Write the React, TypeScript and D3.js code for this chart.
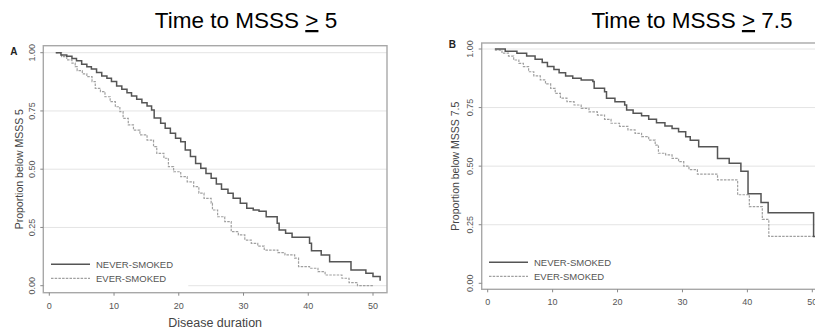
import * as d3 from 'd3';
import React from 'react';

// Panel A: time to MSSS >= 5
const neverA_t = [1, 1.8, 2.7, 3.5, 4.2, 5, 5.8, 6.5, 7.3, 8.1, 8.9, 9.6, 10.4, 11.2, 12, 12.7, 13.5, 14.3, 15.1, 15.8, 16.2, 17.2, 17.9, 18.7, 19.5, 20.3, 21, 21.8, 22.6, 23.4, 24.2, 25, 25.8, 26.6, 27.6, 28.4, 29.5, 30.5, 31.5, 32.4, 33.5, 35.2, 35.5, 36.5, 37.5, 40.2, 40.5, 42, 43.3, 46.6, 48.9, 50, 51.1];
const neverA_s = [1, 0.99, 0.985, 0.975, 0.965, 0.95, 0.94, 0.93, 0.915, 0.9, 0.89, 0.876, 0.857, 0.843, 0.828, 0.814, 0.8, 0.785, 0.771, 0.754, 0.72, 0.697, 0.676, 0.654, 0.633, 0.618, 0.582, 0.554, 0.525, 0.504, 0.482, 0.461, 0.436, 0.414, 0.397, 0.375, 0.354, 0.332, 0.325, 0.32, 0.296, 0.268, 0.239, 0.225, 0.208, 0.182, 0.15, 0.132, 0.103, 0.067, 0.053, 0.039, 0.021];

const everA_t = [1, 1.9, 2.7, 3.5, 4, 4.3, 5.1, 5.8, 6.6, 7.1, 7.9, 8.6, 9.4, 10.2, 10.9, 11.4, 12.2, 13, 14, 15.1, 16.1, 16.6, 17.7, 18.4, 19.2, 20.3, 21.3, 22.3, 23.1, 23.9, 25, 25.2, 26, 27.1, 28.1, 29.2, 30.2, 31.2, 32.2, 33.2, 35.3, 36.4, 37.9, 38.5, 40.2, 41.5, 42.6, 45.2, 46.3, 47.6, 50];
const everA_s = [1, 0.983, 0.969, 0.955, 0.94, 0.923, 0.909, 0.897, 0.876, 0.847, 0.833, 0.811, 0.79, 0.768, 0.747, 0.718, 0.69, 0.668, 0.647, 0.625, 0.597, 0.568, 0.547, 0.511, 0.489, 0.468, 0.446, 0.425, 0.397, 0.375, 0.354, 0.325, 0.296, 0.275, 0.232, 0.218, 0.196, 0.182, 0.17, 0.153, 0.142, 0.132, 0.118, 0.082, 0.075, 0.06, 0.046, 0.032, 0.013, 0, 0];

// Panel B: time to MSSS >= 7.5
const neverB_t = [1.1, 2.7, 4.5, 6, 7.3, 8.4, 9.2, 10.2, 11, 12, 13.1, 14.4, 16.2, 16.4, 18, 18.3, 19.6, 21.1, 21.4, 22.4, 23.7, 24.8, 26, 27.3, 28.4, 29.4, 30.5, 31.2, 32.5, 35.4, 37.2, 39, 40.1, 42.1, 43.2, 50.2, 51];
const neverB_s = [1, 0.99, 0.982, 0.97, 0.956, 0.942, 0.925, 0.913, 0.899, 0.885, 0.875, 0.868, 0.861, 0.832, 0.818, 0.79, 0.775, 0.761, 0.74, 0.726, 0.715, 0.7, 0.685, 0.671, 0.661, 0.647, 0.626, 0.611, 0.583, 0.533, 0.512, 0.478, 0.382, 0.345, 0.301, 0.2, 0.2];

const everB_t = [1.1, 2.2, 3.2, 4, 4.8, 5.5, 6.3, 7.1, 8.1, 8.9, 9.7, 10.4, 11.2, 12.2, 13.3, 14.4, 15.6, 16.9, 18, 19, 20.3, 21.6, 22.7, 23.7, 24.8, 25.8, 26.3, 27.4, 28.4, 29.4, 30.2, 31, 32.3, 35.4, 38.5, 40.3, 42.3, 43.3, 51];
const everB_s = [0.995, 0.982, 0.97, 0.953, 0.939, 0.925, 0.903, 0.885, 0.868, 0.851, 0.832, 0.811, 0.79, 0.775, 0.761, 0.747, 0.732, 0.718, 0.7, 0.683, 0.67, 0.655, 0.64, 0.626, 0.611, 0.59, 0.555, 0.548, 0.533, 0.519, 0.5, 0.485, 0.466, 0.441, 0.378, 0.327, 0.273, 0.2, 0.2];

const xTicks = [0, 10, 20, 30, 40, 50];
const yTicks = [0, 0.25, 0.5, 0.75, 1];
const legendLabels = ['NEVER-SMOKED', 'EVER-SMOKED'];

const FONT = '"Liberation Sans", Arial, sans-serif';

type Geo = {
  x0: number; x50: number; y0: number; y1: number;
  left: number; right: number; top: number; bottom: number;
  legX: number; legY: number; legW: number;
  yTickX: number; yTitleX: number; xTickY: number;
};

function Panel({ letter, title, yTitle, xTitle, never, ever, geo, titleX, letterY }: any) {
  const g: Geo = geo;
  const x = d3.scaleLinear().domain([0, 50]).range([g.x0, g.x50]);
  const y = d3.scaleLinear().domain([0, 1]).range([g.y0, g.y1]);
  const line = d3
    .line<[number, number]>()
    .x((d) => x(d[0]))
    .y((d) => y(d[1]))
    .curve(d3.curveStepAfter);
  const midY = (g.top + g.bottom) / 2;

  return (
    <g>
      <text x={titleX} y={28} fontSize={22.5} textAnchor="middle" fill="#000">
        {title[0]}
        <tspan textDecoration="underline">&gt;</tspan>
        {title[1]}
      </text>
      <text x={g.left - 33} y={letterY} fontSize={10} fontWeight="bold" fill="#222">{letter}</text>

      {yTicks.map((t) => (
        <line key={t} x1={g.left} x2={g.right} y1={y(t)} y2={y(t)} stroke="#e4e4e4" strokeWidth={1} />
      ))}
      {/* legend box hides grid under it */}
      <rect x={g.left + 1} y={g.legY - 10} width={g.legW} height={36} fill="#fff" />

      <rect x={g.left} y={g.top} width={g.right - g.left} height={g.bottom - g.top} fill="none" stroke="#a8a8a8" strokeWidth={1.4} />

      {xTicks.map((t) => (
        <g key={t}>
          <line x1={x(t)} x2={x(t)} y1={g.bottom} y2={g.bottom + 3} stroke="#888" />
          <text x={x(t)} y={g.xTickY} fontSize={9} textAnchor="middle" fill="#555">{t}</text>
        </g>
      ))}
      {yTicks.map((t) => (
        <g key={t}>
          <line x1={g.left - 3} x2={g.left} y1={y(t)} y2={y(t)} stroke="#888" />
          <text transform={`translate(${g.yTickX},${y(t)}) rotate(-90)`} fontSize={9} textAnchor="middle" fill="#555">
            {d3.format('.2f')(t)}
          </text>
        </g>
      ))}
      <text transform={`translate(${g.yTitleX},${midY}) rotate(-90)`} fontSize={10.5} textAnchor="middle" fill="#444">
        {yTitle}
      </text>
      {xTitle && (
        <text x={(g.x0 + g.x50) / 2 + 4} y={327} fontSize={12.5} textAnchor="middle" fill="#444">{xTitle}</text>
      )}

      <path d={line(ever) || ''} fill="none" stroke="#a0a0a0" strokeWidth={1.2} strokeDasharray="2.5,1.2" />
      <path d={line(never) || ''} fill="none" stroke="#555" strokeWidth={1.5} />

      <line x1={g.legX} x2={g.legX + 39} y1={g.legY} y2={g.legY} stroke="#555" strokeWidth={1.5} />
      <text x={g.legX + 45} y={g.legY + 3.5} fontSize={9.5} fill="#555">{legendLabels[0]}</text>
      <line x1={g.legX} x2={g.legX + 39} y1={g.legY + 14} y2={g.legY + 14} stroke="#a0a0a0" strokeWidth={1.2} strokeDasharray="2.5,1.2" />
      <text x={g.legX + 45} y={g.legY + 17.5} fontSize={9.5} fill="#555">{legendLabels[1]}</text>
    </g>
  );
}

const zip = (t: number[], s: number[]) => t.map((v, i) => [v, s[i]] as [number, number]);

export default function App() {
  const geoA: Geo = {
    x0: 49.3, x50: 373, y0: 285.7, y1: 52.7,
    left: 43.3, right: 387, top: 45.7, bottom: 292.7,
    legX: 51, legY: 264.3, legW: 144,
    yTickX: 35, yTitleX: 23, xTickY: 309,
  };
  const geoB: Geo = {
    x0: 487.7, x50: 812.3, y0: 283.3, y1: 49,
    left: 481.7, right: 826, top: 43, bottom: 289.3,
    legX: 489, legY: 262.3, legW: 340,
    yTickX: 472.5, yTitleX: 459, xTickY: 305,
  };
  return (
    <svg width={815} height={335} style={{ position: 'absolute', left: 0, top: 0, fontFamily: FONT, background: '#fff' }}>
      <Panel
        letter="A" letterY={55} titleX={246}
        title={['Time to MSSS ', ' 5']}
        yTitle="Proportion below MSSS 5" xTitle="Disease duration"
        never={zip(neverA_t, neverA_s)} ever={zip(everA_t, everA_s)} geo={geoA}
      />
      <Panel
        letter="B" letterY={48} titleX={692}
        title={['Time to MSSS ', ' 7.5']}
        yTitle="Proportion below MSSS 7.5"
        never={zip(neverB_t, neverB_s)} ever={zip(everB_t, everB_s)} geo={geoB}
      />
    </svg>
  );
}
